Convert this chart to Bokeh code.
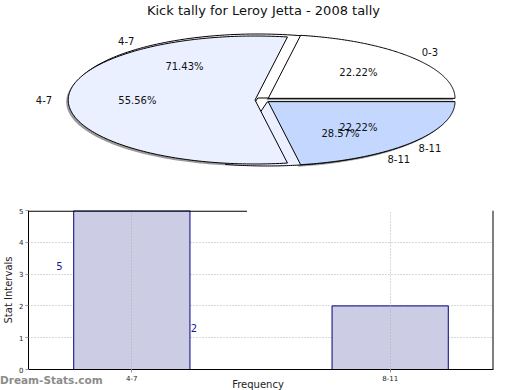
import numpy as np
from bokeh.plotting import figure
from bokeh.models import ColumnDataSource, Range1d, Label, FixedTicker, BoxAnnotation, Span, Div
from bokeh.layouts import column
from bokeh.embed import file_html
from bokeh.resources import INLINE
from bokeh.core.properties import value

# ---------------- data ----------------
chart_title = "Kick tally for Leroy Jetta - 2008 tally"
pie1_labels = ["0-3", "4-7", "8-11"]
pie1_values = [2, 5, 2]
pie2_labels = ["4-7", "8-11"]
pie2_values = [5, 2]
bar_categories = ["4-7", "8-11"]
bar_values = [5, 2]
y_ticks = [0, 1, 2, 3, 4, 5]
y_label = "Stat Intervals"
x_label = "Frequency"
watermark = "Dream-Stats.com"

# ---------------- style / layout ----------------
FONT = "DejaVu Sans"
W = 520
PIE_H = 200
BAR_H = 190
BL, BR = 25, 27                      # shared left / right borders (frames are aligned)
CX, CY, RX, RY = 260.5, 99.5, 188.0, 64.0   # pie centre / radii in pixels
EXPLODE = 0.04
pie_colors = ["#ffffff", "#eaf0ff", "#c4d8ff"]


def wedges(values):
    v = np.array(values, float)
    frac = v / v.sum()
    ends = np.cumsum(frac) * 2 * np.pi
    starts = ends - frac * 2 * np.pi
    xs, ys, mids, offs = [], [], [], []
    for a0, a1 in zip(starts, ends):
        mid = (a0 + a1) / 2
        ox, oy = EXPLODE * np.cos(mid), EXPLODE * np.sin(mid)
        t = np.linspace(a0, a1, 160)
        xs.append(np.concatenate([[ox], ox + np.cos(t)]))
        ys.append(np.concatenate([[oy], oy + np.sin(t)]))
        mids.append(mid)
        offs.append((ox, oy))
    return xs, ys, np.array(mids), frac, np.array(offs)


p1 = figure(width=W, height=PIE_H, output_backend="svg", toolbar_location=None,
            x_range=Range1d((BL - CX) / RX, (W - BR - CX) / RX),
            y_range=Range1d(-(PIE_H - CY) / RY, CY / RY),
            x_axis_type=None, y_axis_type=None,
            min_border_left=BL, min_border_right=BR, min_border_top=0, min_border_bottom=0)
p1.outline_line_color = None
p1.xgrid.visible = False
p1.ygrid.visible = False

xs1, ys1, mids1, frac1, offs1 = wedges(pie1_values)
xs2, ys2, mids2, frac2, offs2 = wedges(pie2_values)

# shadow
sdx, sdy = -2.0 / RX, -2.0 / RY
p1.patches([x + sdx for x in xs1], [y + sdy for y in ys1], fill_color="#9a9a9a",
           line_color=None)
# second series (drawn underneath)
p1.patches(xs2, ys2, fill_color=pie_colors[:len(pie2_values)], line_color="black", line_width=1)
# first series
p1.patches(xs1, ys1, fill_color=pie_colors[:len(pie1_values)], line_color="black", line_width=1)


def pie_text(mids, frac, offs, labels):
    pct = ["%.2f%%" % (f * 100) for f in frac]
    src_in = ColumnDataSource(dict(x=offs[:, 0] + 0.63 * np.cos(mids),
                                   y=offs[:, 1] + 0.63 * np.sin(mids), t=pct))
    src_out = ColumnDataSource(dict(x=1.17 * np.cos(mids), y=1.17 * np.sin(mids), t=labels))
    for s in (src_in, src_out):
        p1.text(x="x", y="y", text="t", source=s, text_align="center", text_baseline="middle",
                text_font=value(FONT), text_font_size="10px", text_color="#111111")


pie_text(mids1, frac1, offs1, pie1_labels)
pie_text(mids2, frac2, offs2, pie2_labels)

p1.add_layout(Label(x=260 - BL, y=PIE_H - 10, x_units="screen", y_units="screen",
                    text=chart_title, text_align="center", text_baseline="middle",
                    text_font=FONT, text_font_size="13px", text_color="#111111"))

# ---------------- bar chart ----------------
n = len(bar_categories)
xpos = np.arange(n)
xr = Range1d(-0.4, 1.4)
yr = Range1d(0, 5)
p2 = figure(width=W, height=BAR_H, output_backend="svg", toolbar_location=None,
            x_range=xr, y_range=yr,
            min_border_left=BL, min_border_right=BR, min_border_top=10, min_border_bottom=21)
p2.outline_line_color = None

p2.xgrid.ticker = FixedTicker(ticks=list(xpos))
p2.ygrid.ticker = FixedTicker(ticks=y_ticks[1:])
for g in (p2.xgrid[0], p2.ygrid[0]):
    g.grid_line_color = "#b0b0b0"
    g.grid_line_dash = "1 2"
p2.xgrid.level = "overlay"

p2.vbar(x=xpos, top=bar_values, width=0.45, fill_color="#ccccE4", line_color="#000080",
        line_width=1)

vl = ColumnDataSource(dict(x=xpos * 0.52 - 0.28, y=np.array(bar_values) * 0.65,
                           t=[str(v) for v in bar_values]))
p2.text(x="x", y="y", text="t", source=vl, text_align="center", text_baseline="middle",
        text_font=value(FONT), text_font_size="10px", text_color="#1a1a99")

p2.xaxis.ticker = FixedTicker(ticks=list(xpos))
p2.xaxis.major_label_overrides = {int(i): c for i, c in zip(xpos, bar_categories)}
p2.yaxis.ticker = FixedTicker(ticks=y_ticks)
for ax in (p2.xaxis[0], p2.yaxis[0]):
    ax.axis_line_color = "black"
    ax.major_tick_line_color = "#999999"
    ax.major_tick_out = 3
    ax.major_tick_in = 0
    ax.minor_tick_line_color = None
    ax.major_label_text_font = FONT
    ax.major_label_text_font_size = "7px"
    ax.major_label_text_color = "#222222"
    ax.major_label_standoff = 2
    ax.axis_label_text_font = FONT
    ax.axis_label_text_font_size = "10px"
    ax.axis_label_text_font_style = "normal"
    ax.axis_label_text_color = "#222222"
p2.yaxis.axis_label = y_label
p2.yaxis.axis_label_standoff = 2

# right frame edge and the short top rule
p2.add_layout(Span(location=xr.end, dimension="height", line_color="black", line_width=2))
p2.add_layout(BoxAnnotation(left=xr.start, right=0.446, top=yr.end,
                            bottom=yr.end - 1.2 / 31.8, fill_color="black", fill_alpha=1,
                            line_color=None))

# bottom strip: watermark and the x-axis title, laid over the bottom border
span_style = "position:absolute;white-space:nowrap;font-family:'%s';" % FONT
foot_html = (
    '<div style="position:relative;width:%dpx;height:20px;">' % W
    + '<span style="%sleft:0px;top:3px;line-height:14px;font-size:10.5px;font-weight:bold;'
      'color:#8c8c8c;">%s</span>' % (span_style, watermark)
    + '<span style="%sleft:208px;width:100px;text-align:center;top:9px;line-height:12px;'
      'font-size:10px;color:#222222;">%s</span>' % (span_style, x_label)
    + '</div>'
)
foot = Div(text=foot_html, width=W, height=20, margin=(-20, 0, 0, 0))

layout = column(p1, p2, foot, spacing=0)
open("out.html", "w").write(file_html(layout, INLINE))
